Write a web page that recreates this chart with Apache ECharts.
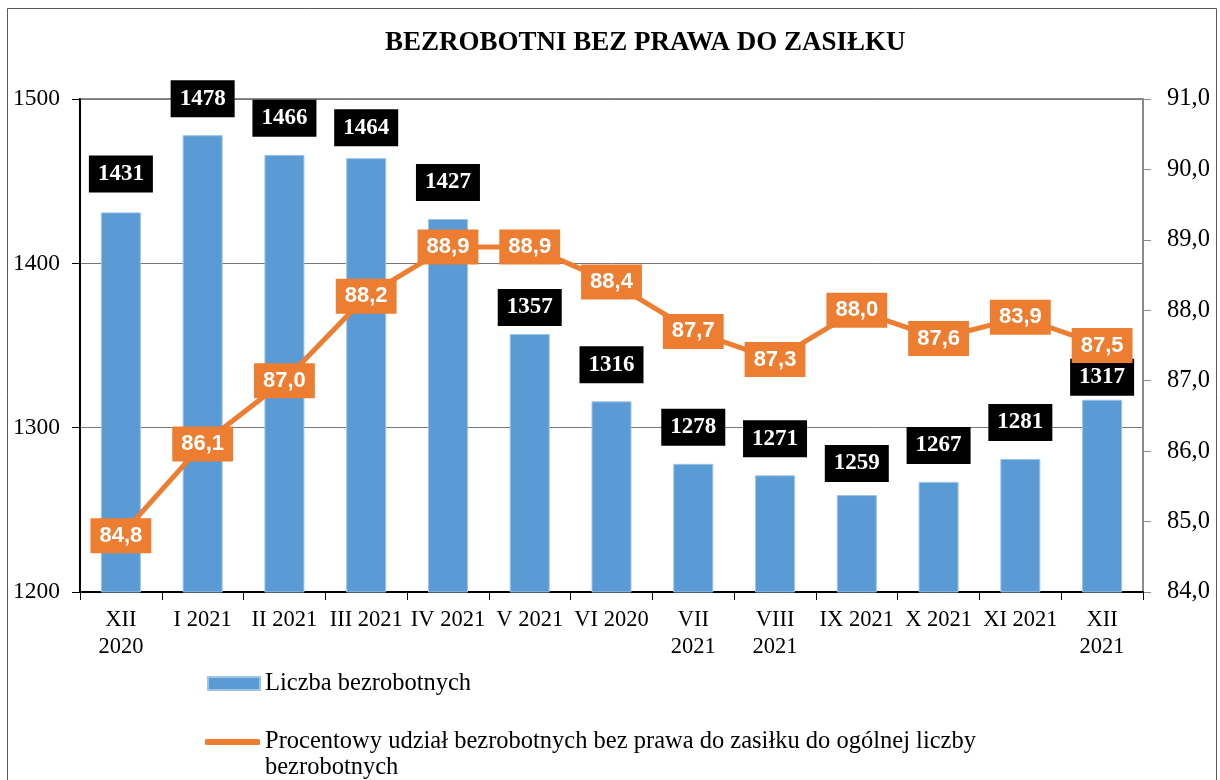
<!DOCTYPE html>
<html>
<head>
<meta charset="utf-8">
<script src="https://cdn.jsdelivr.net/npm/echarts@6/dist/echarts.min.js"></script>
<style>
html,body{margin:0;padding:0;background:#fff;}
#chart{width:1220px;height:780px;}
</style>
</head>
<body>
<div id="chart"></div>
<script>
// ---- data ----
const titleText = 'BEZROBOTNI BEZ PRAWA DO ZASIŁKU';
const categories = ['XII\n2020', 'I 2021', 'II 2021', 'III 2021', 'IV 2021', 'V 2021', 'VI 2020',
  'VII\n2021', 'VIII\n2021', 'IX 2021', 'X 2021', 'XI 2021', 'XII\n2021'];
const unemployedCount = [1431, 1478, 1466, 1464, 1427, 1357, 1316, 1278, 1271, 1259, 1267, 1281, 1317];
const shareNoBenefit = [84.8, 86.1, 87.0, 88.2, 88.9, 88.9, 88.4, 87.7, 87.3, 88.0, 87.6, 87.9, 87.5];
const shareLabels = ['84,8', '86,1', '87,0', '88,2', '88,9', '88,9', '88,4', '87,7', '87,3', '88,0', '87,6', '83,9', '87,5'];
const barName = 'Liczba bezrobotnych';
const lineName = 'Procentowy udział bezrobotnych bez prawa do zasiłku do ogólnej liczby bezrobotnych';

// ---- style ----
const SERIF = "'Liberation Serif','Times New Roman',serif";
const SANS = "'Liberation Sans',Arial,sans-serif";
const BLUE = '#5B9BD5';
const ORANGE = '#ED7D31';
const barLabelDistance = {0: 20, 3: 12, 5: 8, 9: 13, 12: 4};

const chart = echarts.init(document.getElementById('chart'));

const barData = unemployedCount.map((v, i) => {
  const d = { value: v };
  if (barLabelDistance[i] !== undefined) d.label = { distance: barLabelDistance[i] };
  return d;
});

const option = {
  backgroundColor: '#fff',
  animation: false,
  title: {
    text: titleText,
    left: 380,
    top: 25,
    textStyle: { fontFamily: SERIF, fontWeight: 'bold', fontSize: 27, color: '#000' }
  },
  graphic: [{
    type: 'rect',
    shape: { x: 7.5, y: 8.5, width: 1209, height: 800 },
    style: { fill: 'none', stroke: '#595959', lineWidth: 1 },
    silent: true, z: -1
  }],
  legend: [{
    data: [barName],
    left: 207,
    top: 670,
    padding: 0,
    icon: 'rect',
    itemWidth: 52,
    itemHeight: 13,
    itemGap: 0,
    textStyle: { fontFamily: SERIF, fontSize: 24.5, color: '#000', lineHeight: 27 }
  }, {
    data: [{ name: lineName, icon: 'roundRect' }],
    left: 205,
    top: 703,
    padding: 0,
    itemWidth: 55,
    itemHeight: 6,
    itemStyle: { color: ORANGE },
    formatter: name => '\n' + name.replace(' liczby ', ' liczby\n'),
    textStyle: { fontFamily: SERIF, fontSize: 24.5, color: '#000', lineHeight: 26 }
  }],
  grid: {
    left: 80, right: 77, top: 99, bottom: 188,
    show: true, borderColor: '#8c8c8c', borderWidth: 2
  },
  xAxis: {
    type: 'category',
    data: categories,
    boundaryGap: true,
    axisLine: { lineStyle: { color: '#000', width: 2 } },
    axisTick: { show: true, length: 8, lineStyle: { color: '#000' } },
    axisLabel: { fontFamily: SERIF, fontSize: 22.5, color: '#000', margin: 15, lineHeight: 27, interval: 0 }
  },
  yAxis: [{
    type: 'value',
    min: 1200, max: 1500, interval: 100,
    axisLine: { show: true, lineStyle: { color: '#000', width: 2 } },
    axisTick: { show: true, length: 8, lineStyle: { color: '#000' } },
    splitLine: { show: true, lineStyle: { color: '#777', width: 1 } },
    axisLabel: { fontFamily: SERIF, fontSize: 23.5, color: '#000', margin: 20, formatter: v => String(v) }
  }, {
    type: 'value',
    min: 84, max: 91, interval: 1,
    position: 'right',
    axisLine: { show: true, lineStyle: { color: '#8c8c8c', width: 2 } },
    axisTick: { show: true, length: 8, lineStyle: { color: '#8c8c8c' } },
    splitLine: { show: false },
    axisLabel: {
      fontFamily: SERIF, fontSize: 24.5, color: '#000', margin: 24,
      formatter: v => v.toFixed(1).replace('.', ',')
    }
  }],
  series: [{
    name: barName,
    type: 'bar',
    data: barData,
    barWidth: 40,
    itemStyle: { color: BLUE, borderColor: '#9dc3e6', borderWidth: 1 },
    label: {
      show: true,
      position: 'top',
      distance: 18,
      backgroundColor: '#000',
      color: '#fff',
      fontFamily: SERIF,
      fontWeight: 'bold',
      fontSize: 23,
      lineHeight: 23,
      padding: [7, 9]
    },
    z: 2
  }, {
    name: lineName,
    type: 'line',
    yAxisIndex: 1,
    data: shareNoBenefit,
    symbol: 'circle',
    symbolSize: 2,
    showSymbol: true,
    itemStyle: { color: ORANGE },
    lineStyle: { color: ORANGE, width: 5 },
    label: {
      show: true,
      position: 'inside',
      formatter: p => shareLabels[p.dataIndex],
      backgroundColor: ORANGE,
      color: '#fff',
      fontFamily: SANS,
      fontWeight: 'bold',
      fontSize: 22,
      lineHeight: 23,
      padding: [6, 9]
    },
    z: 5
  }]
};

chart.setOption(option);
</script>
</body>
</html>
